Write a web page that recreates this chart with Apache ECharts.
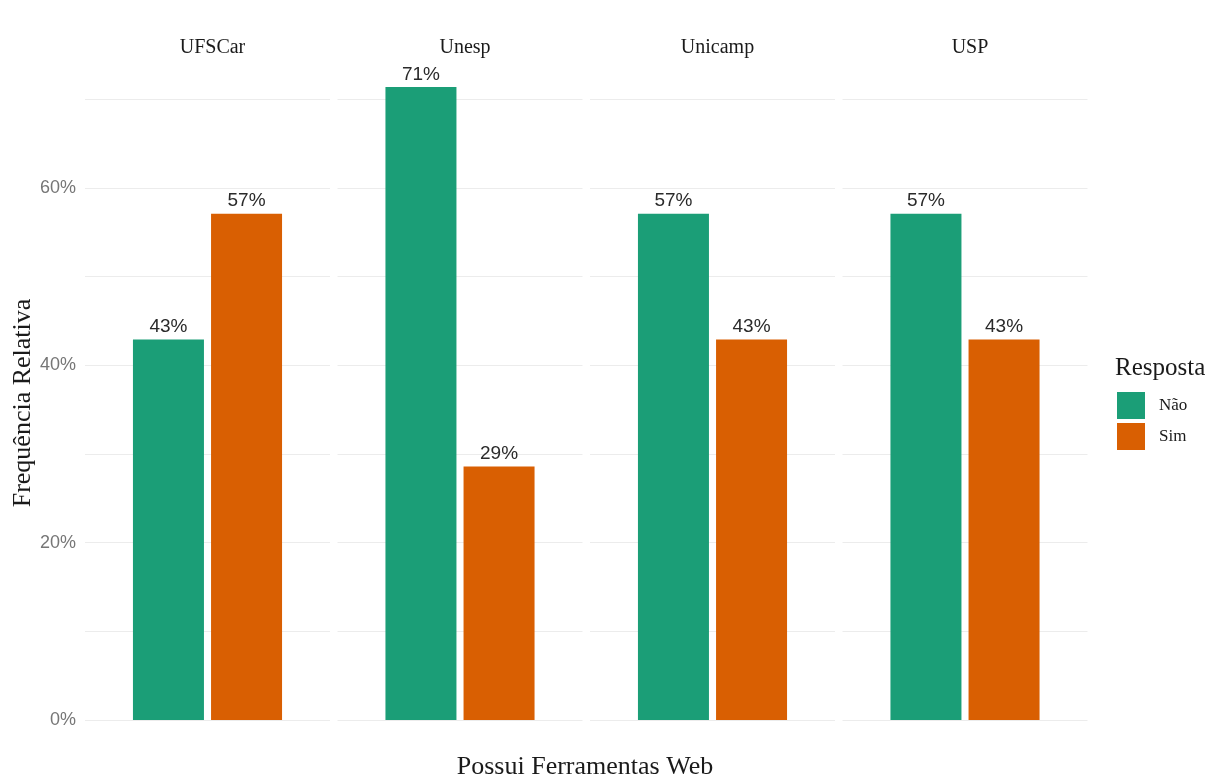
<!DOCTYPE html>
<html><head><meta charset="utf-8">
<script src="https://cdn.jsdelivr.net/npm/echarts@6/dist/echarts.min.js"></script>
<style>html,body{margin:0;padding:0;background:#fff}#c{width:1214px;height:778px}</style>
</head><body><div id="c"></div>
<script>
const facets = ['UFSCar', 'Unesp', 'Unicamp', 'USP'];
const respostas = ['Não', 'Sim'];
const nao = [0.429, 0.714, 0.571, 0.571];
const sim = [0.571, 0.286, 0.429, 0.429];
const yTicks = [0, 0.2, 0.4, 0.6];
const colors = ['#1B9E77', '#D95F02'];

const serif = '"Liberation Serif", "DejaVu Serif", serif';
const sans = '"Liberation Sans", Arial, sans-serif';
const panelLeft = 85, panelW = 245, panelGap = 7.5;
const gridTop = 55, gridBottom = 778 - 720;

const grids = [], xAxes = [], yAxes = [], series = [], titles = [];
facets.forEach((f, i) => {
  const left = panelLeft + i * (panelW + panelGap);
  grids.push({left: left, width: panelW, top: gridTop, bottom: gridBottom, containLabel: false});
  xAxes.push({type: 'category', gridIndex: i, data: ['Possui Ferramentas Web'],
    axisLine: {show: false}, axisTick: {show: false}, axisLabel: {show: false}, splitLine: {show: false}});
  yAxes.push({type: 'value', gridIndex: i, min: 0, max: 0.75, interval: 0.1,
    axisLine: {show: false}, axisTick: {show: false},
    axisLabel: {show: i === 0, margin: 9, color: '#767676', fontFamily: sans, fontSize: 18,
      showMaxLabel: false,
      formatter: v => { const p = Math.round(v * 100); return yTicks.some(t => Math.round(t * 100) === p) ? p + '%' : ''; }},
    splitLine: {show: true, showMaxLine: false, lineStyle: {color: '#ececec', width: 1}}});
  titles.push({text: f, left: left + panelW / 2, top: 33, textAlign: 'center',
    textStyle: {fontFamily: serif, fontSize: 20, fontWeight: 'normal', color: '#1a1a1a'}});
  [nao, sim].forEach((arr, k) => {
    series.push({type: 'bar', name: respostas[k], xAxisIndex: i, yAxisIndex: i,
      data: [arr[i]], barWidth: 71, barGap: '10%', clip: false,
      itemStyle: {color: colors[k]},
      label: {show: true, position: 'top', distance: 3, fontFamily: sans, fontSize: 19, color: '#2a2a2a',
        formatter: p => Math.round(p.value * 100) + '%'}});
  });
});

const chart = echarts.init(document.getElementById('c'), null, {renderer: 'canvas'});
chart.setOption({
  animation: false,
  backgroundColor: '#fff',
  title: titles,
  grid: grids, xAxis: xAxes, yAxis: yAxes, series: series,
  legend: {data: respostas, orient: 'vertical', left: 1112, top: 387, itemWidth: 28, itemHeight: 27, itemGap: 4,
    icon: 'rect', textStyle: {fontFamily: serif, fontSize: 17, color: '#1a1a1a', padding: [0, 0, 0, 9]}, selectedMode: false},
  graphic: [
    {type: 'text', left: 1115, top: 356, style: {text: 'Resposta', font: '25px ' + serif, fill: '#1a1a1a'}},
    {type: 'text', x: 23, y: 403, rotation: Math.PI / 2,
      style: {text: 'Frequência Relativa', font: '26px ' + serif, fill: '#1a1a1a', align: 'center', verticalAlign: 'middle'}},
    {type: 'text', x: 585, y: 767,
      style: {text: 'Possui Ferramentas Web', font: '26px ' + serif, fill: '#1a1a1a', align: 'center', verticalAlign: 'middle'}}
  ]
});
</script></body></html>
